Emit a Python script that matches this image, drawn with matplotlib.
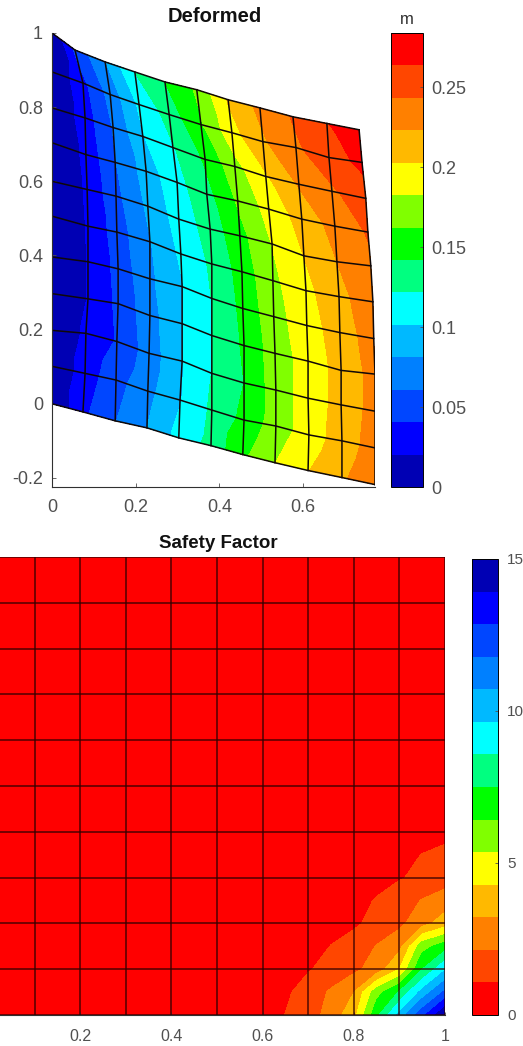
import numpy as np
import matplotlib
matplotlib.use('Agg')
import matplotlib.pyplot as plt
from matplotlib.tri import Triangulation

plt.rcParams['font.family'] = ['Liberation Sans', 'DejaVu Sans']
plt.rcParams['axes.unicode_minus'] = False

# --- deformed mesh, one list per mesh column, rows run top to bottom
mesh_x = np.array([
    [0, 0, 0, 0, 0, 0, 0, 0, 0, 0, 0],
    [.055, .074, .079, .081, .084, .086, .086, .086, .081, .079, .074],
    [.127, .139, .146, .151, .153, .155, .158, .158, .155, .153, .151],
    [.198, .208, .217, .225, .229, .234, .234, .234, .232, .229, .227],
    [.270, .280, .289, .299, .303, .308, .311, .311, .311, .306, .303],
    [.346, .356, .366, .370, .378, .382, .382, .382, .382, .382, .380],
    [.421, .430, .437, .444, .449, .454, .456, .459, .459, .459, .456],
    [.497, .504, .511, .518, .526, .528, .530, .533, .535, .535, .533],
    [.576, .583, .590, .597, .602, .607, .609, .612, .612, .614, .612],
    [.657, .662, .669, .676, .681, .686, .688, .691, .691, .693, .693],
    [.734, .741, .750, .755, .762, .767, .769, .772, .772, .772, .772]])
mesh_y = np.array([
    [1.0, .895, .798, .704, .600, .506, .396, .297, .198, .101, 0],
    [.954, .865, .771, .672, .578, .479, .383, .283, .190, .082, -.022],
    [.922, .834, .745, .651, .560, .463, .364, .270, .168, .064, -.046],
    [.895, .807, .721, .627, .533, .437, .337, .238, .136, .034, -.065],
    [.868, .780, .691, .597, .498, .404, .316, .216, .115, .010, -.092],
    [.847, .753, .659, .565, .471, .377, .284, .184, .082, -.017, -.113],
    [.820, .731, .640, .547, .453, .356, .257, .157, .056, -.044, -.137],
    [.798, .707, .613, .525, .431, .332, .235, .136, .037, -.060, -.159],
    [.774, .691, .592, .498, .399, .305, .211, .115, .015, -.084, -.180],
    [.756, .664, .573, .479, .383, .289, .192, .090, -.003, -.100, -.199],
    [.739, .651, .554, .463, .372, .275, .176, .080, -.020, -.119, -.218]])
# displacement at the nodes, one list per mesh row, top to bottom
disp_rows = np.array([
    [0, .045, .08, .122, .142, .165, .205, .228, .245, .262, .2838],
    [0, .035, .068, .105, .13, .16, .195, .22, .24, .255, .268],
    [0, .03, .062, .10, .12, .145, .175, .2, .225, .24, .255],
    [0, .025, .06, .09, .115, .135, .165, .19, .21, .23, .245],
    [0, .023, .055, .085, .11, .13, .155, .183, .203, .223, .24],
    [0, .022, .05, .08, .105, .125, .15, .178, .197, .217, .235],
    [0, .021, .047, .077, .10, .122, .147, .175, .193, .213, .232],
    [0, .021, .045, .073, .10, .122, .145, .172, .191, .21, .23],
    [0, .024, .042, .07, .10, .122, .142, .172, .191, .21, .23],
    [0, .03, .053, .075, .10, .125, .147, .172, .192, .212, .232],
    [0, .036, .06, .081, .108, .128, .158, .182, .202, .22, .238]])
disp = disp_rows.T
disp_max = .2838

# --- safety factor, corner x .6-1, y 0-.4 (rest of the plate stays in the first band)
sf_x = [.6, .65, .7, .75, .8, .85, .9, .95, 1]
sf_y = [0, .05, .1, .15, .2, .25, .3, .35, .4]
sf_corner = [
    [.5, 1.1, 1.6, 2.6, 3.9, 7.2, 10.0, 12.5, 15],
    [.3, .9, 1.5, 2.3, 3.2, 6.0, 7.6, 10.0, 12.0],
    [.2, .5, 1.0, 1.4, 1.9, 2.6, 4.3, 7.5, 9.5],
    [0, .2, .6, 1.1, 1.4, 2.2, 2.9, 6.0, 7.0],
    [0, 0, .3, .7, .95, 1.3, 1.9, 2.8, 3.8],
    [0, 0, 0, .4, .7, 1.15, 1.6, 2.2, 2.6],
    [0, 0, 0, 0, .4, .7, 1.0, 1.3, 1.7],
    [0, 0, 0, 0, 0, .3, .7, 1.1, 1.3],
    [0, 0, 0, 0, 0, 0, .2, .5, .8]]
sf_max = 15

band_colors = ['#0000b4', '#0000ff', '#0046ff', '#0080ff', '#00b9ff', '#00ffff', '#00ff80',
               '#00ff00', '#80ff00', '#ffff00', '#ffb900', '#ff8000', '#ff4600', '#ff0000']

W, H = 523., 1046.
def box(x0, x1, ytop, ybot):
    return [x0/W, 1-ybot/H, (x1-x0)/W, (ybot-ytop)/H]

def style(ax):
    ax.spines['top'].set_visible(False)
    ax.spines['right'].set_visible(False)
    for s in ax.spines.values():
        s.set_color('#303030')
        s.set_linewidth(.8)

fig = plt.figure(figsize=(5.23, 10.46), dpi=100)

# --- top panel, one diagonal per cell
ax = fig.add_axes(box(52, 375, 33, 487))
tris = []
for i in range(10):
    for j in range(10):
        a = i*11 + j
        b = (i+1)*11 + j
        tris.append([a, b, b+1])
        tris.append([a, b+1, a+1])
tri = Triangulation(mesh_x.ravel(), mesh_y.ravel(), tris)
levels = np.linspace(0, disp_max, 15)
cf = ax.tricontourf(tri, disp.ravel(), levels=levels, colors=band_colors)
for i in range(11):
    ax.plot(mesh_x[i], mesh_y[i], color='#100808', lw=1.1)
    ax.plot(mesh_x[:, i], mesh_y[:, i], color='#100808', lw=1.1)
ax.set_xlim(0, .772)
ax.set_ylim(-.2245, 1)
ax.set_xticks([0, .2, .4, .6])
ax.set_xticklabels(['0', '0.2', '0.4', '0.6'])
ax.set_yticks([-.2, 0, .2, .4, .6, .8, 1])
ax.set_yticklabels(['-0.2', '0', '0.2', '0.4', '0.6', '0.8', '1'])
style(ax)
ax.tick_params(direction='in', length=3, width=.6, colors='#505050', labelsize=13)
ax.tick_params(axis='x', pad=9)
ax.tick_params(axis='y', pad=6.5)
fig.text(214.5/W, 1-17/H, 'Deformed', ha='center', va='center', fontweight='bold', fontsize=14.5, color='#111111')

cax = fig.add_axes(box(391, 423, 33, 487))
cb = fig.colorbar(cf, cax=cax)
cb.set_ticks([0, .05, .1, .15, .2, .25])
cb.set_ticklabels(['0', '0.05', '0.1', '0.15', '0.2', '0.25'])
cb.ax.tick_params(direction='in', length=2, width=.6, colors='#505050', pad=6, labelsize=13)
cb.outline.set_linewidth(.7)
fig.text(407/W, 1-19/H, 'm', ha='center', va='center', color='#303030', fontsize=12)

# --- bottom panel
ax2 = fig.add_axes(box(-11, 445, 557, 1015))
grid_x = np.linspace(0, 1, 21)
grid_y = np.linspace(0, 1, 21)
sf = np.zeros((21, 21))
sf[:9, 12:] = sf_corner
sf_levels = np.linspace(0, sf_max, 15)
cf2 = ax2.contourf(grid_x, grid_y, sf, levels=sf_levels, colors=band_colors[::-1])
for v in np.linspace(0, 1, 11):
    ax2.plot([v, v], [0, 1], color='#300000', lw=1.1, alpha=.85)
    ax2.plot([0, 1], [v, v], color='#300000', lw=1.1, alpha=.85)
ax2.set_xlim(0, 1)
ax2.set_ylim(0, 1)
ax2.set_xticks([.2, .4, .6, .8, 1])
ax2.set_xticklabels(['0.2', '0.4', '0.6', '0.8', '1'])
ax2.set_yticks([])
style(ax2)
ax2.tick_params(direction='in', length=2, width=.6, colors='#505050', labelsize=11.5, pad=10)
fig.text(218/W, 1-543/H, 'Safety Factor', ha='center', va='center', fontweight='bold', fontsize=13.5, color='#111111')

cax2 = fig.add_axes(box(472, 498, 559, 1015))
cb2 = fig.colorbar(cf2, cax=cax2)
cb2.set_ticks([0, 5, 10, 15])
cb2.set_ticklabels(['0', '5', '10', '15'])
cb2.ax.tick_params(direction='in', length=2, width=.6, colors='#505050', pad=6.5, labelsize=11)
cb2.outline.set_linewidth(.7)

fig.savefig('out.png', dpi=100)
